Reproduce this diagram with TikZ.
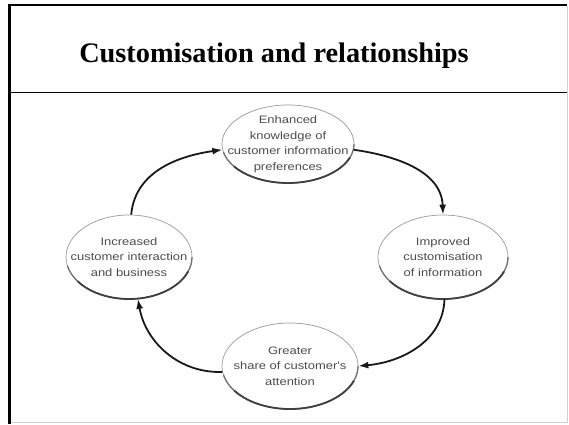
\documentclass[tikz,border=0pt]{standalone}
\usepackage{fontspec}
\setmainfont{Liberation Serif}
\newfontfamily\lblfont[FakeStretch=1.2]{Liberation Sans}
\usetikzlibrary{arrows.meta,shapes.geometric}

% darker, heavier stroke along the lower rim of an oval
\newcommand\ovalshade[3]{%
  \draw[black!55, line width=1.3pt]
    ([shift={(192:#2pt and #3pt)}]#1.center)
    arc[start angle=192, end angle=360, x radius=#2pt, y radius=#3pt];
  \draw[black!75, line width=1.8pt]
    ([shift={(215:#2pt and #3pt)}]#1.center)
    arc[start angle=215, end angle=340, x radius=#2pt, y radius=#3pt];
}

\begin{document}
\begin{tikzpicture}[x=1pt,y=1pt,
  oval/.style={ellipse, draw=black!40, line width=0.7pt, inner sep=0pt},
  ovaltext/.style={align=center, text=black!70, inner sep=0pt,
    font=\lblfont\fontsize{10.8}{15.5}\selectfont},
  flow/.style={line width=1.8pt, draw=black!90,
    -{Latex[length=10pt,width=7pt]}},
  frameline/.style={line width=#1, draw=black},
]
\useasboundingbox (0,0) rectangle (569,424);

% slide frame
\draw[black!18, line width=1pt] (11,1.5) -- (567,1.5) -- (567,418);
\draw[frameline=2pt] (567,418.5) -- (9.5,418.5);
\draw[frameline=3pt] (9.5,419.5) -- (9.5,0);
\draw[frameline=1.2pt] (9.5,331.5) -- (567,331.5);

% heading
\node[font=\bfseries\fontsize{28.3}{30}\selectfont, anchor=base] (title)
  at (274,362) {Customisation and relationships};

% cycle stages: fixed-size ovals, wording set on top
\node[oval, minimum width=132pt, minimum height=78pt] (T) at (288,280) {};
\node[oval, minimum width=130pt, minimum height=84pt] (R) at (443,167) {};
\node[oval, minimum width=136pt, minimum height=86pt] (B) at (290,58) {};
\node[oval, minimum width=126pt, minimum height=84pt] (L) at (129,167) {};

\ovalshade{T}{66}{39}
\ovalshade{R}{65}{42}
\ovalshade{B}{68}{43}
\ovalshade{L}{63}{42}

\node[ovaltext] (Ttext) at (T.center)
  {Enhanced\\knowledge of\\customer information\\preferences};
\node[ovaltext] (Rtext) at (R.center)
  {Improved\\customisation\\of information};
\node[ovaltext] (Btext) at (B.center)
  {Greater\\share of customer's\\attention};
\node[ovaltext] (Ltext) at (L.center)
  {Increased\\customer interaction\\and business};

% cycle arrows
\draw[flow] (L.87)  to[out=85,  in=188] (T.185);
\draw[flow] (T.355) to[out=-8,  in=92]  (R.north);
\draw[flow] (R.272) to[out=-92, in=5]   (B.east);
\draw[flow] (B.185) to[out=182, in=-80] (L.282);
\end{tikzpicture}
\end{document}
